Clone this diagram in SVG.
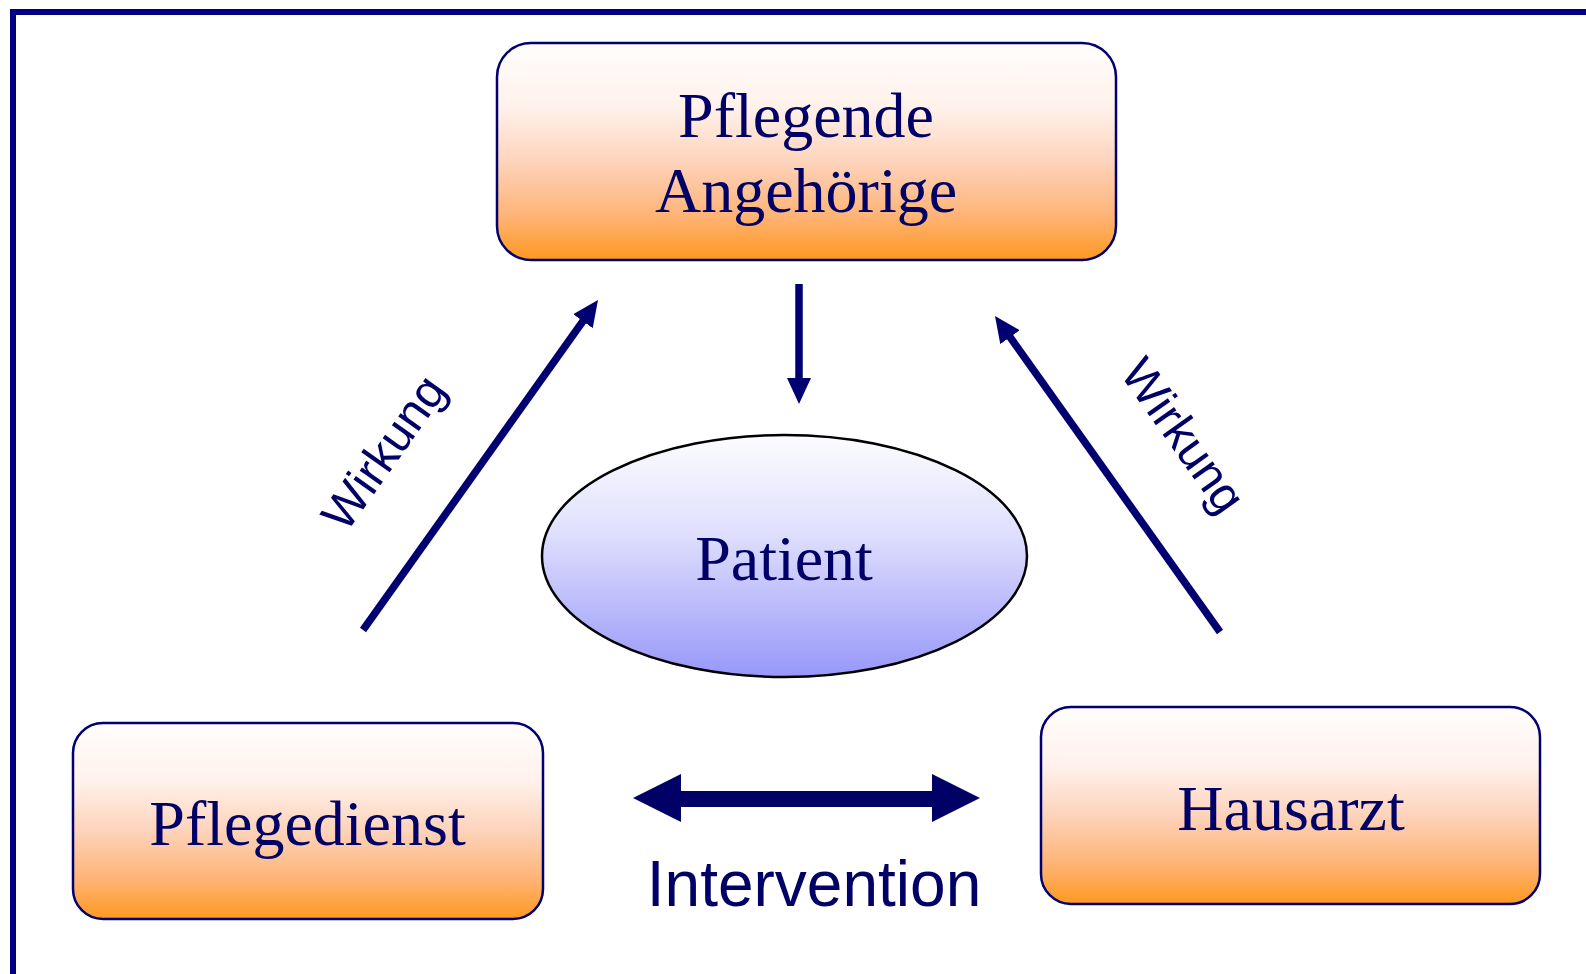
<svg xmlns="http://www.w3.org/2000/svg" width="1586" height="974" viewBox="0 0 1586 974">
<defs>
<linearGradient id="gOrange" x1="0" y1="0" x2="0" y2="1">
<stop offset="0" stop-color="#fffefd"/>
<stop offset="0.3" stop-color="#fff1ea"/>
<stop offset="0.55" stop-color="#fdd3bb"/>
<stop offset="0.8" stop-color="#feb374"/>
<stop offset="1" stop-color="#ff981f"/>
</linearGradient>
<linearGradient id="gBlue" x1="0" y1="0" x2="0" y2="1">
<stop offset="0" stop-color="#fcfcff"/>
<stop offset="0.4" stop-color="#e0e0fd"/>
<stop offset="1" stop-color="#9797fa"/>
</linearGradient>
<marker id="ah" viewBox="0 0 26 24" refX="6" refY="12" markerWidth="26" markerHeight="24" markerUnits="userSpaceOnUse" orient="auto">
<path d="M0,0 L26,12 L0,24 z" fill="#000070"/>
</marker>
</defs>
<style>
.box{fill:url(#gOrange);stroke:#000070;stroke-width:2.5}
.serif{font-family:"Liberation Serif","Times New Roman",serif;font-size:64px;fill:#000066;text-anchor:middle}
.sans{font-family:"Liberation Sans",Arial,sans-serif;fill:#000066;text-anchor:middle}
.conn{stroke:#000070;stroke-width:7.5;fill:none;marker-end:url(#ah)}
</style>
<rect x="13" y="12" width="1600" height="1000" fill="#ffffff" stroke="#000080" stroke-width="6"/>
<g id="node-angehoerige">
<rect class="box" x="497" y="43" width="619" height="217" rx="34" ry="34"/>
<text class="serif" x="806" y="137">Pflegende</text>
<text class="serif" x="806" y="212">Angehörige</text>
</g>
<g id="node-patient">
<ellipse cx="784.5" cy="556" rx="242.5" ry="121" fill="url(#gBlue)" stroke="#000000" stroke-width="2.5"/>
<text class="serif" x="784" y="580">Patient</text>
</g>
<g id="node-pflegedienst">
<rect class="box" x="73" y="723" width="470" height="196" rx="30" ry="30"/>
<text class="serif" x="307.5" y="845">Pflegedienst</text>
</g>
<g id="node-hausarzt">
<rect class="box" x="1041" y="707" width="499" height="197" rx="30" ry="30"/>
<text class="serif" x="1291" y="830">Hausarzt</text>
</g>
<g id="connectors">
<line class="conn" x1="363" y1="630" x2="586.4" y2="316.3"/>
<line class="conn" x1="799" y1="284" x2="799" y2="384"/>
<line class="conn" x1="1220" y1="632" x2="1006.6" y2="332.3"/>
<polygon points="633,798 681,774 681,791 932,791 932,774 980,798 932,822 932,807 681,807 681,822" fill="#000066"/>
<text class="sans" font-size="48" transform="translate(397,462) rotate(-54.6)">Wirkung</text>
<text class="sans" font-size="48" transform="translate(1170,445) rotate(54.6)">Wirkung</text>
<text class="sans" font-size="64" x="814" y="906">Intervention</text>
</g>
</svg>
